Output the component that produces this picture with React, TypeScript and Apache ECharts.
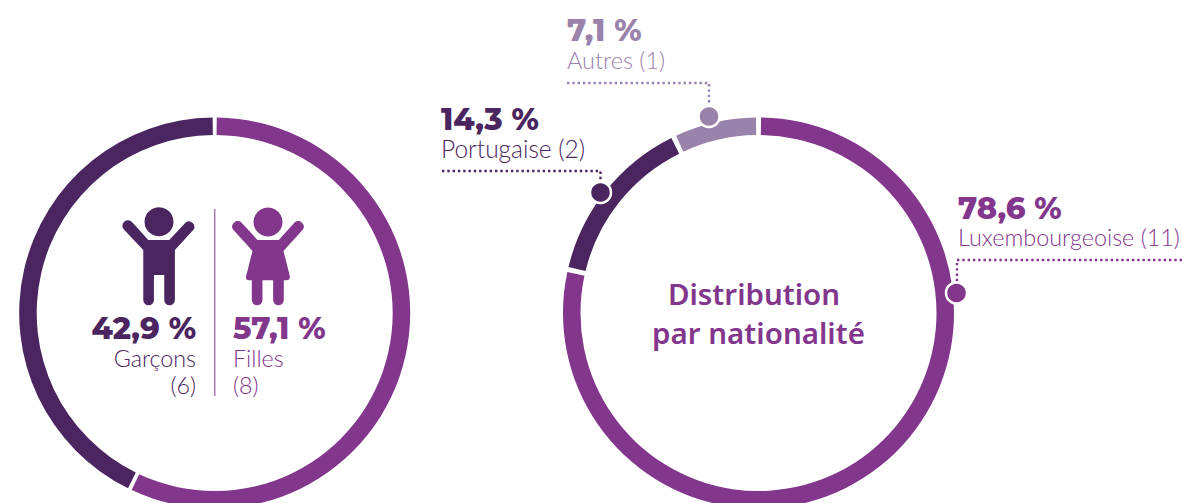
import React, { useEffect, useRef } from "react";
import * as echarts from "echarts";

const DARK = "#4a2560";
const PURPLE = "#82368c";
const LIGHT = "#9a83ab";

const genderNames = ["Filles", "Garçons"];
const genderCounts = [8, 6];
const genderColors = [PURPLE, DARK];
const nationalityNames = ["Luxembourgeoise", "Portugaise", "Autres"];
const nationalityCounts = [11, 2, 1];
const nationalityColors = [PURPLE, DARK, LIGHT];

const BOY =
  "M131 118 A16.7 16.7 0 0 1 157 97 L205 150 L268 150 L318 97 A16.7 16.7 0 0 1 342 118 L285 180 L285 330 A16 16 0 0 1 253 330 L253 255 L222 255 L222 330 A16 16 0 0 1 190 330 L190 180 Z";
const GIRL =
  "M459 118 A16.7 16.7 0 0 1 484 97 L533 150 L597 150 L645 97 A16.7 16.7 0 0 1 670 118 L611 183 L630 258 Q632 271 620 271 L612 271 L612 330 A16 16 0 0 1 580 330 L580 271 L548 271 L548 330 A16 16 0 0 1 516 330 L516 271 L508 271 Q496 271 499 258 L518 183 Z";
echarts.graphic.registerShape("boyBody", echarts.graphic.extendPath(BOY as any, {}));
echarts.graphic.registerShape("girlBody", echarts.graphic.extendPath(GIRL as any, {}));

const BOLD = "Montserrat, Inter, sans-serif";
const LIGHTF = "Lato, sans-serif";
const HEAD = "'Noto Sans', sans-serif";

function txt(text: string, x: number, baseline: number, fill: string, size: number, weight: any, family: string, align = "left") {
  return {
    type: "text",
    x,
    y: baseline - size * 0.36,
    z: 10,
    silent: true,
    style: { text, fill, fontSize: size, fontWeight: weight, fontFamily: family, textAlign: align, textVerticalAlign: "middle" },
  };
}
function leader(points: number[][], color: string) {
  return {
    type: "polyline",
    z: 10,
    silent: true,
    shape: { points },
    style: { stroke: color, lineWidth: 2.4, lineDash: [2.4, 2.9], fill: "none" },
  };
}
function dot(x: number, y: number, color: string) {
  return {
    type: "circle",
    z: 11,
    silent: true,
    shape: { cx: x, cy: y, r: 10.5 },
    style: { fill: color, stroke: "#ffffff", lineWidth: 2.5 },
  };
}
function pie(names: string[], counts: number[], colors: string[], cx: number, gap: number) {
  return {
    type: "pie",
    silent: true,
    center: [cx, 313],
    radius: [178, 195.5],
    startAngle: 90,
    clockwise: true,
    padAngle: gap,
    minAngle: 0,
    label: { show: false },
    labelLine: { show: false },
    data: names.map((name, i) => ({ name, value: counts[i], itemStyle: { color: colors[i] } })),
  };
}

export default function App() {
  const ref = useRef<HTMLDivElement>(null);
  useEffect(() => {
    document.body.style.margin = "0";
    document.body.style.overflow = "hidden";
    const chart = echarts.init(ref.current!, null, { renderer: "svg" });
    chart.setOption({
      animation: false,
      backgroundColor: "#ffffff",
      series: [
        pie(genderNames, genderCounts, genderColors, 214.7, 1.2),
        pie(nationalityNames, nationalityCounts, nationalityColors, 758.5, 1.5),
      ],
      graphic: [
        { type: "circle", z: 10, silent: true, shape: { cx: 159, cy: 221.7, r: 14.5 }, style: { fill: DARK } },
        { type: "circle", z: 10, silent: true, shape: { cx: 268, cy: 222, r: 14.5 }, style: { fill: PURPLE } },
        { type: "boyBody", z: 10, silent: true, x: 80, y: 190, scaleX: 1 / 3, scaleY: 1 / 3, style: { fill: DARK } },
        { type: "girlBody", z: 10, silent: true, x: 80, y: 190, scaleX: 1 / 3, scaleY: 1 / 3, style: { fill: PURPLE } },
        { type: "line", z: 10, silent: true, shape: { x1: 214.7, y1: 209, x2: 214.7, y2: 396 }, style: { stroke: "#a878ae", lineWidth: 1.5 } },
        txt("42,9 %", 196, 339, DARK, 30.5, 800, BOLD, "right"),
        txt("Garçons", 196, 366, DARK, 23.3, 300, LIGHTF, "right"),
        txt("(6)", 196, 393, DARK, 23.3, 300, LIGHTF, "right"),
        txt("57,1 %", 233, 339, PURPLE, 30.5, 800, BOLD),
        txt("Filles", 233, 366, PURPLE, 23.3, 300, LIGHTF),
        txt("(8)", 233, 393, PURPLE, 23.3, 300, LIGHTF),
        txt("14,3 %", 441, 130, DARK, 30.5, 800, BOLD),
        txt("Portugaise (2)", 441, 157, DARK, 24.5, 300, LIGHTF),
        txt("7,1 %", 567, 41, LIGHT, 30.5, 800, BOLD),
        txt("Autres (1)", 567, 68, LIGHT, 23.5, 300, LIGHTF),
        txt("78,6 %", 958, 219, PURPLE, 30.5, 800, BOLD),
        txt("Luxembourgeoise (11)", 958, 245, PURPLE, 23.4, 300, LIGHTF),
        txt("Distribution", 754, 304, PURPLE, 29.5, 600, HEAD, "center"),
        txt("par nationalité", 758.5, 343, PURPLE, 29.5, 600, HEAD, "center"),
        leader([[567, 83], [709, 83], [709, 106]], LIGHT),
        leader([[442, 171], [600.5, 171], [600.5, 184]], DARK),
        leader([[1182, 260], [957, 260], [957, 284]], PURPLE),
        dot(709, 116.5, LIGHT),
        dot(600.5, 192.5, DARK),
        dot(956.5, 293, PURPLE),
      ],
    });
    return () => chart.dispose();
  }, []);
  return <div ref={ref} style={{ width: 1182, height: 503 }} />;
}
